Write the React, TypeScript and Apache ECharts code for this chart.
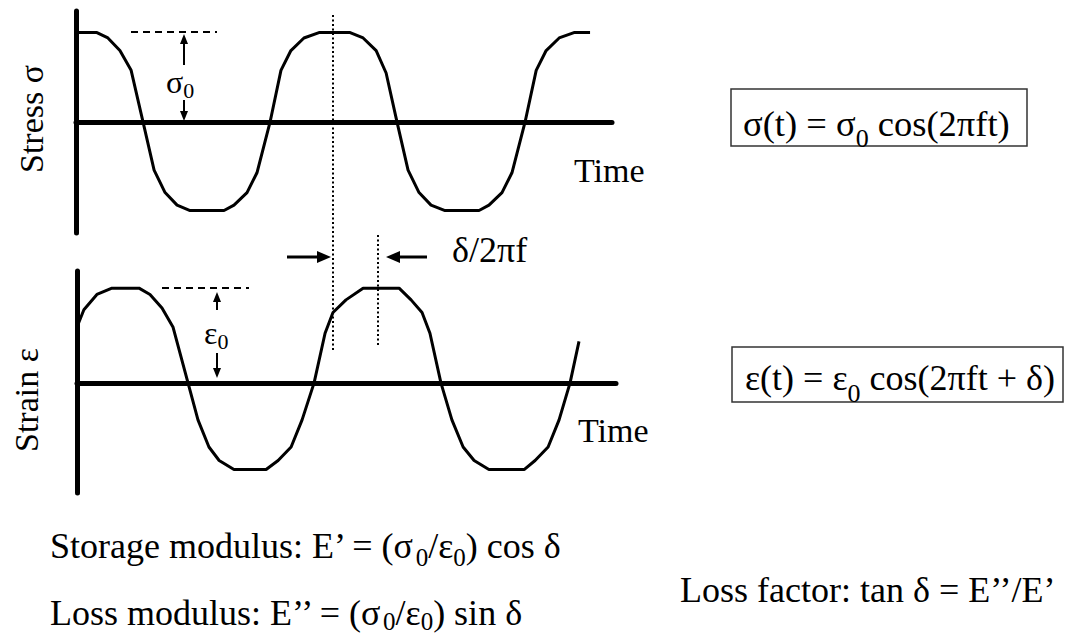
import React, { useEffect, useRef } from "react";
import * as echarts from "echarts";

// Stress curve vertices (time in periods, stress in units of sigma0)
const STRESS_T = [0.008, 0.082, 0.125, 0.172, 0.216, 0.263, 0.306, 0.349, 0.396, 0.447,
  0.58, 0.619, 0.67, 0.709, 0.76, 0.803, 0.842, 0.893, 0.952,
  1.074, 1.125, 1.176, 1.215, 1.258, 1.301, 1.344, 1.391, 1.446,
  1.579, 1.618, 1.669, 1.708, 1.759, 1.803, 1.842, 1.893, 1.951, 2.014];
const STRESS_V = [1.0, 1.0, 0.94, 0.8, 0.58, 0, -0.53, -0.78, -0.92, -0.98,
  -0.98, -0.92, -0.78, -0.56, 0, 0.58, 0.8, 0.94, 1.0,
  1.0, 0.94, 0.8, 0.55, 0, -0.53, -0.78, -0.92, -0.98,
  -0.98, -0.92, -0.78, -0.56, 0, 0.58, 0.8, 0.94, 1.0, 1.0];

// Strain curve vertices (time in periods, strain in units of eps0)
const STRAIN_T = [0, 0.027, 0.078, 0.137, 0.243, 0.286, 0.333, 0.376, 0.435,
  0.474, 0.517, 0.557, 0.615, 0.741, 0.788, 0.839, 0.882, 0.929,
  0.972, 1.003, 1.054, 1.121, 1.262, 1.309, 1.352, 1.383, 1.426,
  1.469, 1.513, 1.556, 1.614, 1.752, 1.795, 1.846, 1.889, 1.932, 1.967];
const STRAIN_V = [0.62, 0.81, 0.98, 1.05, 1.05, 0.98, 0.83, 0.62, 0,
  -0.41, -0.71, -0.86, -0.96, -0.96, -0.86, -0.71, -0.41, 0,
  0.55, 0.78, 0.92, 1.05, 1.05, 0.92, 0.78, 0.55, 0,
  -0.41, -0.71, -0.86, -0.96, -0.96, -0.86, -0.71, -0.41, 0, 0.46];

const TIME_LABEL = "Time";
const STRESS_LABEL = "Stress σ";
const STRAIN_LABEL = "Strain ε";
const DELAY_LABEL = "δ/2πf";

const SERIF = "Liberation Serif";

function pairs(t: number[], v: number[]) {
  return t.map((x, i) => [x, v[i]]);
}

function richSub(main: number, sub: number, lh: number) {
  return {
    m: { fontSize: main, lineHeight: lh, fontFamily: SERIF, fill: "#000" },
    s: { fontSize: sub, lineHeight: sub, verticalAlign: "bottom", fontFamily: SERIF, fill: "#000" },
  };
}

function plain(size: number) {
  return { fontSize: size, fontFamily: SERIF, fill: "#000" };
}

function arrowV(x: number, tipY: number, tailY: number, headLen: number, halfW: number, w: number) {
  const dir = tailY > tipY ? 1 : -1;
  const baseY = tipY + dir * headLen;
  return [
    { type: "line", shape: { x1: x, y1: baseY - dir * 1, x2: x, y2: tailY }, style: { stroke: "#000", lineWidth: w } },
    { type: "polygon", shape: { points: [[x, tipY], [x - halfW, baseY], [x + halfW, baseY]] }, style: { fill: "#000" } },
  ];
}

function arrowH(y: number, tipX: number, tailX: number, headLen: number, halfW: number, w: number) {
  const dir = tailX > tipX ? 1 : -1;
  const baseX = tipX + dir * headLen;
  return [
    { type: "line", shape: { x1: baseX - dir * 1, y1: y, x2: tailX, y2: y }, style: { stroke: "#000", lineWidth: w } },
    { type: "polygon", shape: { points: [[tipX, y], [baseX, y - halfW], [baseX, y + halfW]] }, style: { fill: "#000" } },
  ];
}

export default function App() {
  const ref = useRef<HTMLDivElement>(null);
  useEffect(() => {
    if (!ref.current) return;
    const chart = echarts.init(ref.current, null, { renderer: "svg" });
    const axisLine = { show: true, onZero: true, lineStyle: { color: "#000", width: 5 } };
    const hiddenAxis = {
      axisTick: { show: false },
      axisLabel: { show: false },
      splitLine: { show: false },
    };
    const seriesStyle = { color: "#000", width: 3 };

    const graphic: any[] = [
      // dashed amplitude guides
      { type: "line", shape: { x1: 131, y1: 32, x2: 217, y2: 32 }, style: { stroke: "#000", lineWidth: 2, lineDash: [7, 5] } },
      { type: "line", shape: { x1: 162, y1: 288, x2: 249, y2: 288 }, style: { stroke: "#000", lineWidth: 2, lineDash: [7, 5] } },
      // dotted peak lines
      { type: "line", shape: { x1: 333, y1: 15, x2: 333, y2: 350 }, style: { stroke: "#000", lineWidth: 2, lineDash: [2, 2.5] } },
      { type: "line", shape: { x1: 378, y1: 235, x2: 378, y2: 345 }, style: { stroke: "#000", lineWidth: 2, lineDash: [2, 2.5] } },
      ...arrowV(184, 34, 65, 10, 4, 2),
      ...arrowV(184, 121, 100, 10, 4, 2),
      ...arrowV(217, 292, 310, 10, 4, 2),
      ...arrowV(217, 378, 353, 10, 4, 2),
      ...arrowH(257, 331, 287, 14, 6, 3),
      ...arrowH(257, 386, 427, 14, 6, 3),
      // axis titles
      { type: "text", x: 31, y: 119, rotation: Math.PI / 2, style: { text: STRESS_LABEL, ...plain(34), align: "center", verticalAlign: "middle" } },
      { type: "text", x: 26, y: 400, rotation: Math.PI / 2, style: { text: STRAIN_LABEL, ...plain(34), align: "center", verticalAlign: "middle" } },
      { type: "text", x: 574, y: 170, style: { text: TIME_LABEL, ...plain(34), align: "left", verticalAlign: "middle" } },
      { type: "text", x: 578, y: 430, style: { text: TIME_LABEL, ...plain(34), align: "left", verticalAlign: "middle" } },
      { type: "text", x: 452, y: 250, style: { text: DELAY_LABEL, ...plain(36), align: "left", verticalAlign: "middle" } },
      // amplitude labels
      { type: "text", x: 166, y: 82, style: { text: "{m|σ}{s|0}", rich: richSub(32, 22, 38), align: "left", verticalAlign: "middle" } },
      { type: "text", x: 204, y: 333, style: { text: "{m|ε}{s|0}", rich: richSub(32, 22, 38), align: "left", verticalAlign: "middle" } },
      // formula boxes
      { type: "rect", shape: { x: 731, y: 89, width: 296, height: 57 }, style: { fill: "none", stroke: "#333", lineWidth: 1.5 } },
      { type: "text", x: 743, y: 123, style: { text: "{m|σ(t) = σ}{s|0}{m|\u00a0cos(2πft)}", rich: richSub(36.5, 26, 56), align: "left", verticalAlign: "middle" } },
      { type: "rect", shape: { x: 732, y: 347, width: 331, height: 55 }, style: { fill: "none", stroke: "#333", lineWidth: 1.5 } },
      { type: "text", x: 745, y: 378, style: { text: "{m|ε(t) = ε}{s|0}{m|\u00a0cos(2πft + δ)}", rich: richSub(36, 26, 56), align: "left", verticalAlign: "middle" } },
      // bottom definitions
      { type: "text", x: 50, y: 546, style: { text: "{m|Storage modulus: E’ = (σ}{s|0}{m|/ε}{s|0}{m|) cos δ}", rich: richSub(36, 25, 48), align: "left", verticalAlign: "middle" } },
      { type: "text", x: 50, y: 613, style: { text: "{m|Loss modulus: E’’ = (σ}{s|0}{m|/ε}{s|0}{m|) sin δ}", rich: richSub(36, 25, 42), align: "left", verticalAlign: "middle" } },
      { type: "text", x: 680, y: 590, style: { text: "Loss factor: tan δ = E’’/E’", ...plain(36), align: "left", verticalAlign: "middle" } },
    ];

    chart.setOption({
      animation: false,
      backgroundColor: "#fff",
      grid: [
        { left: 76, top: 11, width: 536, height: 222 },
        { left: 77, top: 271, width: 539, height: 222 },
      ],
      xAxis: [
        { type: "value", gridIndex: 0, min: 0, max: 2.1, axisLine, ...hiddenAxis },
        { type: "value", gridIndex: 1, min: 0, max: 2.112, axisLine, ...hiddenAxis },
      ],
      yAxis: [
        { type: "value", gridIndex: 0, min: -1.23, max: 1.24, axisLine, ...hiddenAxis },
        { type: "value", gridIndex: 1, min: -1.22, max: 1.24, axisLine, ...hiddenAxis },
      ],
      series: [
        { type: "line", name: "Stress", xAxisIndex: 0, yAxisIndex: 0, data: pairs(STRESS_T, STRESS_V), showSymbol: false, lineStyle: seriesStyle, itemStyle: { color: "#000" }, z: 3 },
        { type: "line", name: "Strain", xAxisIndex: 1, yAxisIndex: 1, data: pairs(STRAIN_T, STRAIN_V), showSymbol: false, lineStyle: seriesStyle, itemStyle: { color: "#000" }, z: 3 },
      ],
      graphic,
    });
    return () => chart.dispose();
  }, []);
  return <div ref={ref} style={{ position: "fixed", left: 0, top: 0, width: 1066, height: 636, background: "#fff" }} />;
}
